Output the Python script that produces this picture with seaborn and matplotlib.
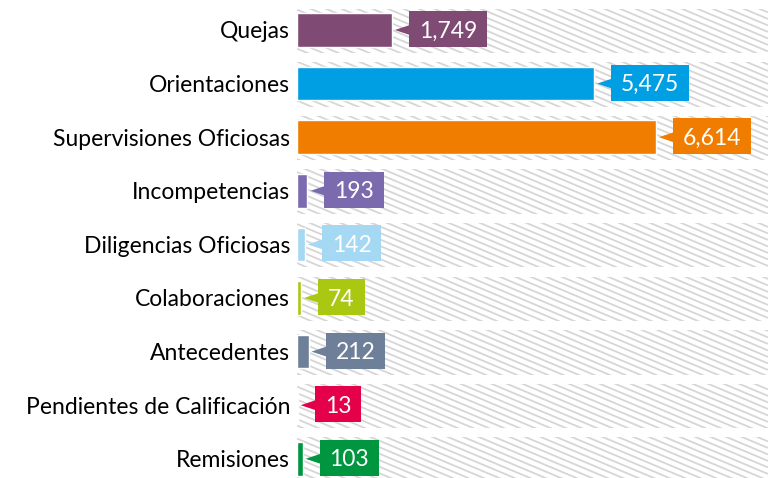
import numpy as np
import pandas as pd
import matplotlib
matplotlib.use("Agg")
import matplotlib.pyplot as plt
import matplotlib.transforms as mtransforms
from matplotlib.patches import Rectangle, Polygon
from matplotlib.collections import LineCollection
import seaborn as sns

categorias = ["Quejas", "Orientaciones", "Supervisiones Oficiosas", "Incompetencias",
              "Diligencias Oficiosas", "Colaboraciones", "Antecedentes",
              "Pendientes de Calificación", "Remisiones"]
valores = [1749, 5475, 6614, 193, 142, 74, 212, 13, 103]
colores = ["#7f4a73", "#009fe3", "#f07d00", "#7c6aae", "#a5d8f3",
           "#aac712", "#6e7f99", "#e5004a", "#009640"]

sns.set_style("white")
plt.rcParams["font.family"] = ["Lato", "DejaVu Sans"]

df = pd.DataFrame({"cat": categorias, "val": valores})

fig = plt.figure(figsize=(7.68, 4.78), dpi=100)
ax = fig.add_axes([297 / 768, -7.6 / 478, 471 / 768, 482.4 / 478])

# hatched background bands
fig.canvas.draw()
bb = ax.get_window_extent()
segs = []
slope = 0.42
step = 6.5
c = bb.y0 - 5
while c < bb.y1 + slope * bb.width + 10:
    segs.append([(bb.x0, c), (bb.x1, c - slope * bb.width)])
    c += step
for i in range(len(categorias)):
    rect = Rectangle((0, i - 0.40), 1e5, 0.83, transform=ax.transData,
                     fc="white", ec="none", zorder=0)
    ax.add_patch(rect)
    lc = LineCollection(segs, colors="#d6d6d6", linewidths=1.3,
                        transform=mtransforms.IdentityTransform(), zorder=0.5)
    ax.add_collection(lc)
    lc.set_clip_path(rect)

sns.barplot(data=df, x="val", y="cat", hue="cat", palette=colores, legend=False,
            orient="h", width=0.63, saturation=1, ax=ax, zorder=2)

ax.set_xlim(0, 8680)
ax.set_ylim(len(categorias) - 0.5, -0.5)
ax.set_xlabel("")
ax.set_ylabel("")
ax.set_xticks([])
sns.despine(ax=ax, left=True, bottom=True)
ax.tick_params(axis="y", length=0, pad=5, labelsize=16.5, labelcolor="black")

# callout labels: text first, box drawn around it afterwards
gap, padx, boxh = 17, 10, 36
textos = []
for i, (v, col) in enumerate(zip(valores, colores)):
    t = ax.annotate(f"{v:,}", xy=(v, i), xytext=(gap + padx, -1),
                    textcoords="offset pixels", ha="left", va="center",
                    color="white", fontsize=16.5, zorder=6)
    textos.append(t)

fig.canvas.draw()
rend = fig.canvas.get_renderer()
for i, (v, col, t) in enumerate(zip(valores, colores, textos)):
    tb = t.get_window_extent(rend)
    xc, yc = ax.transData.transform((v, i))
    box = Rectangle((xc + gap, yc - boxh / 2 + 1), tb.width + 2 * padx, boxh,
                    transform=mtransforms.IdentityTransform(), fc=col, ec="none",
                    zorder=4)
    ax.add_artist(box)
    tri = Polygon([(xc + 3, yc), (xc + gap + 1, yc + 5), (xc + gap + 1, yc - 5)],
                  closed=True, transform=mtransforms.IdentityTransform(),
                  fc=col, ec="none", zorder=4)
    ax.add_artist(tri)

fig.savefig("out.png", dpi=100)
